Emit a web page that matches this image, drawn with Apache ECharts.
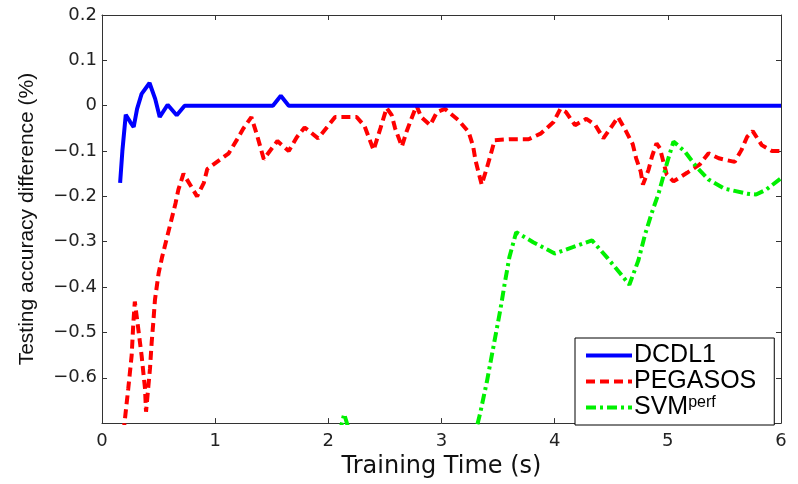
<!DOCTYPE html>
<html>
<head>
<meta charset="utf-8">
<script src="https://cdn.jsdelivr.net/npm/echarts@6/dist/echarts.min.js"></script>
<style>html,body{margin:0;padding:0;background:#fff;}#c{width:798px;height:484px;}</style>
</head>
<body>
<div id="c"></div>
<script>
var xTicks = [0, 1, 2, 3, 4, 5, 6];
var yTicks = [0.2, 0.1, 0, -0.1, -0.2, -0.3, -0.4, -0.5, -0.6, -0.7];

var dcdlTime = [0.16, 0.18, 0.21, 0.25, 0.28, 0.31, 0.35, 0.42, 0.47, 0.51, 0.58, 0.66, 0.73, 1.51, 1.58, 1.65, 6.0];
var dcdlValue = [-0.17, -0.10, -0.02, -0.036, -0.047, -0.007, 0.026, 0.05, 0.015, -0.025, 0.002, -0.021, 0.0, 0.0, 0.022, 0.0, 0.0];

var pegTime = [0.19, 0.232, 0.262, 0.277, 0.29, 0.321, 0.35, 0.38, 0.389, 0.424, 0.439, 0.453, 0.468, 0.50, 0.53, 0.56, 0.59, 0.62, 0.65, 0.675, 0.72, 0.78, 0.84, 0.90, 0.93, 1.01, 1.12, 1.19, 1.25, 1.32, 1.37, 1.43, 1.48, 1.55, 1.65, 1.72, 1.79, 1.91, 1.99, 2.06, 2.25, 2.32, 2.40, 2.46, 2.515, 2.56, 2.59, 2.65, 2.69, 2.74, 2.78, 2.82, 2.90, 2.96, 3.03, 3.15, 3.24, 3.28, 3.30, 3.325, 3.355, 3.40, 3.43, 3.47, 3.60, 3.77, 3.88, 3.99, 4.05, 4.10, 4.18, 4.28, 4.36, 4.43, 4.50, 4.56, 4.63, 4.69, 4.72, 4.76, 4.78, 4.83, 4.86, 4.90, 4.93, 4.96, 4.99, 5.05, 5.17, 5.28, 5.36, 5.45, 5.59, 5.65, 5.70, 5.75, 5.83, 5.92, 6.0];
var pegValue = [-0.72, -0.624, -0.551, -0.479, -0.432, -0.493, -0.551, -0.624, -0.675, -0.58, -0.522, -0.479, -0.428, -0.37, -0.335, -0.305, -0.275, -0.245, -0.215, -0.185, -0.15, -0.175, -0.2, -0.17, -0.14, -0.125, -0.105, -0.076, -0.05, -0.025, -0.065, -0.118, -0.101, -0.078, -0.1, -0.07, -0.048, -0.072, -0.047, -0.025, -0.025, -0.045, -0.098, -0.05, -0.005, -0.021, -0.05, -0.09, -0.058, -0.025, 0.0, -0.025, -0.043, -0.014, -0.007, -0.032, -0.058, -0.09, -0.12, -0.145, -0.174, -0.138, -0.112, -0.076, -0.074, -0.074, -0.061, -0.036, -0.007, -0.014, -0.043, -0.029, -0.043, -0.072, -0.047, -0.025, -0.056, -0.085, -0.116, -0.145, -0.174, -0.141, -0.112, -0.083, -0.094, -0.123, -0.152, -0.167, -0.148, -0.13, -0.105, -0.116, -0.124, -0.098, -0.069, -0.056, -0.087, -0.1, -0.1];

var svmTime = [2.10, 2.14, 2.20, 2.70, 3.28, 3.34, 3.40, 3.46, 3.52, 3.56, 3.60, 3.66, 3.81, 4.00, 4.16, 4.33, 4.46, 4.58, 4.66, 4.74, 4.80, 4.86, 4.92, 4.96, 5.00, 5.05, 5.15, 5.25, 5.36, 5.50, 5.70, 5.78, 5.87, 6.0];
var svmValue = [-0.72, -0.68, -0.73, -0.78, -0.74, -0.68, -0.61, -0.53, -0.45, -0.39, -0.334, -0.279, -0.301, -0.326, -0.312, -0.297, -0.334, -0.37, -0.395, -0.341, -0.283, -0.235, -0.192, -0.156, -0.12, -0.079, -0.101, -0.134, -0.163, -0.183, -0.194, -0.196, -0.185, -0.16];

var seriesNames = ['DCDL1', 'PEGASOS', 'SVMperf'];

function zip(a, b) { return a.map(function (t, i) { return [t, b[i]]; }); }

var frame = '#333';
var tickFont = 'DejaVu Sans';

var chart = echarts.init(document.getElementById('c'), null, { renderer: 'canvas' });
chart.setOption({
  animation: false,
  backgroundColor: '#fff',
  grid: { left: 102, right: 17, top: 15, bottom: 56, containLabel: false },
  xAxis: [{
    type: 'value', min: xTicks[0], max: xTicks[xTicks.length - 1], interval: 1,
    position: 'bottom',
    name: 'Training Time (s)', nameLocation: 'middle', nameGap: 22,
    nameTextStyle: { fontFamily: tickFont, fontSize: 24, color: '#111' },
    axisLine: { show: true, onZero: false, lineStyle: { color: frame, width: 1 } },
    axisTick: { show: true, inside: true, length: 5, lineStyle: { color: frame } },
    axisLabel: { margin: 9, fontFamily: tickFont, fontSize: 18, color: '#222',
      formatter: function (v) { return String(Math.round(v)); } },
    splitLine: { show: false }
  }, {
    type: 'value', min: xTicks[0], max: xTicks[xTicks.length - 1], interval: 1,
    position: 'top',
    axisLine: { show: true, onZero: false, lineStyle: { color: frame, width: 1 } },
    axisTick: { show: true, inside: true, length: 5, lineStyle: { color: frame } },
    axisLabel: { show: false }, splitLine: { show: false }
  }],
  yAxis: [{
    type: 'value', min: yTicks[yTicks.length - 1], max: yTicks[0], interval: 0.1,
    position: 'left',
    name: 'Testing accuracy difference (%)', nameLocation: 'middle', nameGap: 64,
    nameTextStyle: { fontFamily: 'Liberation Sans', fontSize: 21, color: '#111' },
    axisLine: { show: true, onZero: false, lineStyle: { color: frame, width: 1 } },
    axisTick: { show: true, inside: true, length: 5, lineStyle: { color: frame } },
    axisLabel: { margin: 5, fontFamily: tickFont, fontSize: 18, color: '#222',
      formatter: function (v) {
        var r = Math.round(v * 10) / 10;
        if (Math.abs(r - yTicks[yTicks.length - 1]) < 1e-6) return '';
        if (r === 0) return '0';
        return (r < 0 ? '\u2212' : '') + Math.abs(r).toFixed(1);
      } },
    splitLine: { show: false }
  }, {
    type: 'value', min: yTicks[yTicks.length - 1], max: yTicks[0], interval: 0.1,
    position: 'right',
    axisLine: { show: true, onZero: false, lineStyle: { color: frame, width: 1 } },
    axisTick: { show: true, inside: true, length: 5, lineStyle: { color: frame } },
    axisLabel: { show: false }, splitLine: { show: false }
  }],
  legend: {
    orient: 'vertical', left: 575, top: 338,
    data: seriesNames,
    itemWidth: 46, itemHeight: 14, itemGap: 1,
    padding: [5, 18, 5, 9],
    itemStyle: { opacity: 0, borderWidth: 0 },
    lineStyle: { width: 4 },
    backgroundColor: '#fff', borderColor: '#000', borderWidth: 1, borderRadius: 0,
    textStyle: {
      fontFamily: 'Liberation Sans', fontSize: 25, color: '#000', lineHeight: 25, padding: [0, 0, 0, -3],
      rich: {
        n: { fontFamily: 'Liberation Sans', fontSize: 25, color: '#000', lineHeight: 25 },
        s: { fontFamily: 'Liberation Sans', fontSize: 16, color: '#000', verticalAlign: 'top', lineHeight: 25, padding: [0, 0, 8, 0] }
      }
    },
    formatter: function (name) {
      if (name === 'SVMperf') return '{n|SVM}{s|perf}';
      return name;
    }
  },
  series: [{
    name: seriesNames[0], type: 'line', data: zip(dcdlTime, dcdlValue),
    showSymbol: false, symbol: 'none', clip: true,
    lineStyle: { color: '#0000ff', width: 4, type: 'solid' },
    itemStyle: { color: '#0000ff' }, z: 3
  }, {
    name: seriesNames[1], type: 'line', data: zip(pegTime, pegValue),
    showSymbol: false, symbol: 'none', clip: true,
    lineStyle: { color: '#ff0000', width: 4, type: [9, 5], cap: 'butt' },
    itemStyle: { color: '#ff0000' }, z: 2
  }, {
    name: seriesNames[2], type: 'line', data: zip(svmTime, svmValue),
    showSymbol: false, symbol: 'none', clip: true,
    lineStyle: { color: '#00f000', width: 4, type: [10, 4, 3, 4], cap: 'butt' },
    itemStyle: { color: '#00f000' }, z: 2
  }]
});
</script>
</body>
</html>
